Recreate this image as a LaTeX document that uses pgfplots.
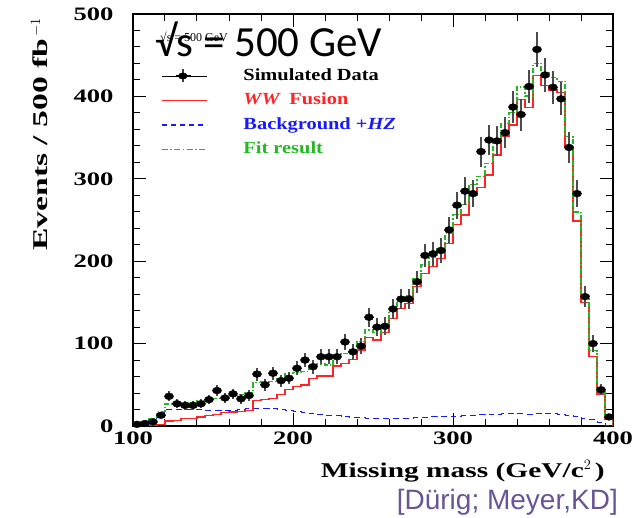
\documentclass[border=0pt]{standalone}
\usepackage{fontspec}
\usepackage{pgfplots}
\usepackage{pgfplotstable}
\pgfplotsset{compat=1.18}
\setmainfont{Liberation Serif}
\newfontfamily\rootfont[FakeStretch=1.4]{Liberation Serif}
\newfontfamily\rootylab[FakeStretch=1.6]{Liberation Serif}
\newfontfamily\rootleg[FakeStretch=1.2]{Liberation Serif}
\newfontfamily\calib{Carlito}
\newfontfamily\arial{Liberation Sans}
\definecolor{rootred}{RGB}{255,35,35}
\definecolor{rootblue}{RGB}{25,25,255}
\definecolor{rootgreen}{RGB}{35,185,35}
\definecolor{citecol}{RGB}{105,85,150}

% simulated data: bin centre, events, error
\pgfplotstableread{
x y err
102.5 2 1.4
107.5 3 1.7
112.5 5 2.2
117.5 13 3.6
122.5 36 6.0
127.5 27 5.2
132.5 25 5.0
137.5 25 5.0
142.5 27 5.2
147.5 32 5.7
152.5 43 6.6
157.5 34 5.8
162.5 39 6.2
167.5 33 5.7
172.5 37 6.1
177.5 63 7.9
182.5 50 7.1
187.5 64 8.0
192.5 55 7.4
197.5 58 7.6
202.5 70 8.4
207.5 80 8.9
212.5 72 8.5
217.5 84 9.2
222.5 84 9.2
227.5 84 9.2
232.5 102 10.1
237.5 90 9.5
242.5 97 9.8
247.5 132 11.5
252.5 120 11.0
257.5 121 11.0
262.5 142 11.9
267.5 154 12.4
272.5 154 12.4
277.5 175 13.2
282.5 207 14.4
287.5 209 14.5
292.5 213 14.6
297.5 238 15.4
302.5 268 16.4
307.5 285 16.9
312.5 282 16.8
317.5 333 18.2
322.5 347 18.6
327.5 346 18.6
332.5 356 18.9
337.5 387 19.7
342.5 378 19.4
347.5 412 20.3
352.5 457 21.4
357.5 426 20.6
362.5 411 20.3
367.5 397 19.9
372.5 338 18.4
377.5 282 16.8
382.5 157 12.5
387.5 100 10.0
392.5 44 6.6
397.5 11 3.3
}\datatab

% histograms: lower bin edge, WW fusion, background, fit
\pgfplotstableread{
x ww bkg fit
100 0.5 0.5 1
105 0.5 5 5.5
110 1 8.5 9.5
115 2 15.4 17.4
120 6 20.6 26.6
125 6.5 20.6 27.1
130 9 19.5 28.5
135 9.5 19.5 29
140 11 19.5 30.5
145 13 19 32
150 14 19 33
155 16 19 35
160 17 19 36
165 18 20.5 38.5
170 19 21 40
175 31 21.4 52.4
180 32 21.4 53.4
185 33 21 54
190 38 20 58
195 44.5 19 63.5
200 47.7 17.4 65.1
205 49.8 16.5 66.3
210 57.8 15.5 73.3
215 60.7 14.5 75.2
220 60.7 13.3 74
225 72.8 12.5 85.3
230 76 11.5 87.5
235 80.9 10.5 91.4
240 92.2 10 102.2
245 107 9.5 116.5
250 104.4 9.3 113.7
255 113 9 122
260 130.7 9 139.7
265 142.4 9.3 151.7
270 149 9.5 158.5
275 169 10 179
280 185 10.5 195.5
285 194 11 205
290 203.5 11.5 215
295 221.7 11.8 233.5
300 245 12 257
305 256 12.5 268.5
310 280 13 293
315 289.7 13.5 303.2
320 304.6 14 318.6
325 328.9 14.5 343.4
330 352 15.4 367.4
335 365.3 15.4 380.7
340 396.5 15 411.5
345 386.4 14 400.4
350 425.2 15 440.2
355 413 15.5 428.5
360 407.8 15 422.8
365 404.5 14 418.5
370 338.2 13 351.2
375 248.8 11 259.8
380 150 8.5 158.5
385 84.1 7.3 91.4
390 38.8 4 42.8
395 8.1 1 9.1
400 0 0 0
}\histtab

\begin{document}
\begin{tikzpicture}
\useasboundingbox (-133pt,-92pt) rectangle (501pt,426pt);
\begin{axis}[
scale only axis,
width=480pt, height=412pt,
xmin=100, xmax=400, ymin=0, ymax=500,
xtick={100,200,300,400},
ytick={0,100,200,300,400,500},
minor x tick num=4, minor y tick num=4,
tick align=inside,
major tick length=13pt, minor tick length=7pt,
every tick/.style={black, line width=1pt},
axis line style={line width=1.5pt},
ticklabel style={font=\rootfont\bfseries\fontsize{19}{19}\selectfont},
/pgf/number format/assume math mode=true,
yticklabel style={xshift=-16pt},
xticklabel style={yshift=-2pt},
xlabel={Missing mass (GeV/c$^{2}$\,)},
xlabel style={at={(axis description cs:0.99,-0.075)}, anchor=north east, font=\rootfont\bfseries\fontsize{21}{21}\selectfont},
ylabel={Events / 500 fb$^{\,-1}$},
ylabel style={at={(axis description cs:-0.195,1.0)}, anchor=east, font=\rootylab\bfseries\fontsize{21}{21}\selectfont},
legend cell align=left,
legend style={at={(rel axis cs:0.052,0.878)}, anchor=north west, draw=none, fill=none,
  font=\rootleg\bfseries\fontsize{17}{17}\selectfont,
  row sep=5.5pt, column sep=34pt,
  nodes={text height=12pt, text depth=3pt, inner sep=2pt}},
]
\addlegendimage{legend image code/.code={
  \path (0pt,0pt) -- (45pt,0pt);
  \draw[black!75, line width=1.5pt] (21pt,-6.5pt) -- (21pt,6.5pt);
  \draw[black, line width=1pt] (14pt,0pt) -- (29pt,0pt);
  \fill[black] (21pt,0pt) ellipse (4.5pt and 3.2pt);}}
\addlegendentry{Simulated Data}
\addlegendimage{legend image code/.code={
  \draw[rootred, line width=1pt] (0pt,0pt) -- (45pt,0pt);}}
\addlegendentry{\textcolor{rootred}{\textit{WW}\enspace Fusion}}
\addlegendimage{legend image code/.code={
  \draw[draw=rootblue, line width=1.1pt, dash pattern=on 5pt off 4pt] (0pt,0pt) -- (45pt,0pt);}}
\addlegendentry{\textcolor{rootblue}{Background +\textit{HZ}}}

\addplot[forget plot, const plot, rootblue, line width=1pt, dash pattern=on 6pt off 4pt] table[x=x, y=bkg] {\histtab};
\addplot[forget plot, const plot, rootred, line width=1.2pt] table[x=x, y=ww] {\histtab};
\addplot[const plot, rootgreen, line width=1.2pt, dash pattern=on 5pt off 2pt on 1.5pt off 2pt,
  legend image code/.code={
  \draw[draw=rootgreen, line width=1.3pt, dash pattern=on 6pt off 2.5pt on 1.5pt off 2.5pt] (0pt,0pt) -- (45pt,0pt);}]
  table[x=x, y=fit] {\histtab};
\addlegendentry{\textcolor{rootgreen}{Fit result}}
\addplot[forget plot, only marks, mark=*, mark size=3.4pt, mark options={xscale=1.35, fill=black, draw=black},
  error bars/.cd, y dir=both, y explicit, error mark=none,
  error bar style={line width=2pt, black!70}]
  table[x=x, y=y, y error=err] {\datatab};
\end{axis}
\node[anchor=base west, inner sep=0, font=\fontsize{12}{12}\selectfont] at (27pt,384pt) {√s = 500 GeV};
\node[anchor=base west, inner sep=0, font=\calib\fontsize{43}{43}\selectfont] at (22pt,369pt) {√s = 500 GeV};
\node[anchor=base east, inner sep=0, text=citecol, font=\arial\fontsize{28}{28}\selectfont] at (485pt,-84pt) {[Dürig; Meyer,KD]};
\end{tikzpicture}
\end{document}
